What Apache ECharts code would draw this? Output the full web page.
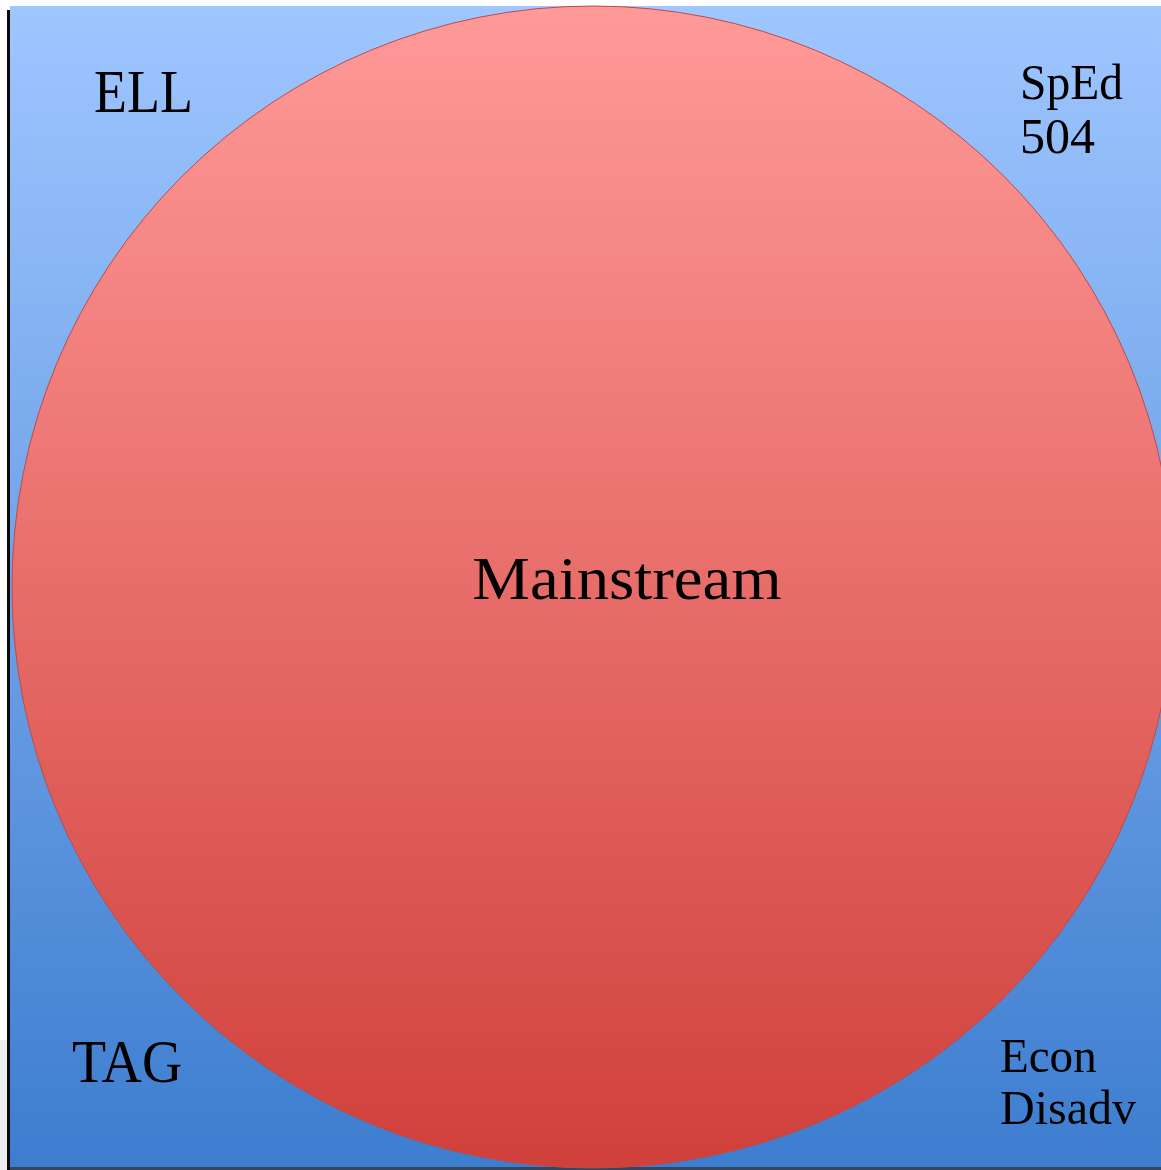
<!DOCTYPE html>
<html>
<head>
<meta charset="utf-8">
<script src="https://cdn.jsdelivr.net/npm/echarts@6/dist/echarts.min.js"></script>
<style>
  html, body { margin: 0; padding: 0; background: #fff; }
  #main { width: 1161px; height: 1170px; }
</style>
</head>
<body>
<div id="main"></div>
<script>
// groups shown in the diagram
let centerLabel = 'Mainstream';
let cornerLabels = [['ELL'], ['SpEd', '504'], ['TAG'], ['Econ', 'Disadv']];

// corner anchors: [left x, first line middle y, font size, line step]
let cornerPos = [[94, 96, 62, 0], [1020, 86, 50, 54], [72, 1066, 62, 0], [1000, 1059, 49, 52]];
// horizontal squeeze so Liberation Serif matches the original face
let cornerScale = [[0.87], [0.95, 1], [0.9], [0.96, 0.98]];

let Font = '"Liberation Serif", "DejaVu Serif", serif';

let graphics = [
  // background square
  {
    type: 'rect', shape: {x: 10, y: 6, width: 1160, height: 1162},
    style: {
      fill: new echarts.graphic.LinearGradient(0, 0, 0, 1, [
        {offset: 0, color: '#9fc6ff'}, {offset: 1, color: '#3d7dcf'}
      ])
    }
  },
  // bottom edge and left shadow line
  {type: 'rect', shape: {x: 10, y: 1167, width: 1160, height: 3}, style: {fill: '#34475f'}},
  {type: 'rect', shape: {x: 7, y: 10, width: 3, height: 1160}, style: {fill: '#0a0a0a'}},
  {type: 'rect', shape: {x: 0, y: 1040, width: 7, height: 130}, style: {fill: '#ededed'}},
  // big circle
  {
    type: 'circle', shape: {cx: 593, cy: 587, r: 581},
    style: {
      fill: new echarts.graphic.LinearGradient(0, 0, 0, 1, [
        {offset: 0, color: '#ff9a98'}, {offset: 1, color: '#d0403b'}
      ]),
      stroke: '#bf4a47', lineWidth: 1
    }
  },
  {
    type: 'text', x: 627, y: 583, scaleX: 1.045,
    style: {text: centerLabel, font: '62px ' + Font, fill: '#000', align: 'center', verticalAlign: 'middle'}
  }
];

cornerLabels.forEach((lines, i) => {
  let [x, y, size, step] = cornerPos[i];
  lines.forEach((t, j) => {
    graphics.push({
      type: 'text', x: x, y: y + j * step, scaleX: cornerScale[i][j],
      style: {text: t, font: size + 'px ' + Font, fill: '#000', align: 'left', verticalAlign: 'middle'}
    });
  });
});

let chart = echarts.init(document.getElementById('main'));
chart.setOption({animation: false, graphic: graphics});
</script>
</body>
</html>
